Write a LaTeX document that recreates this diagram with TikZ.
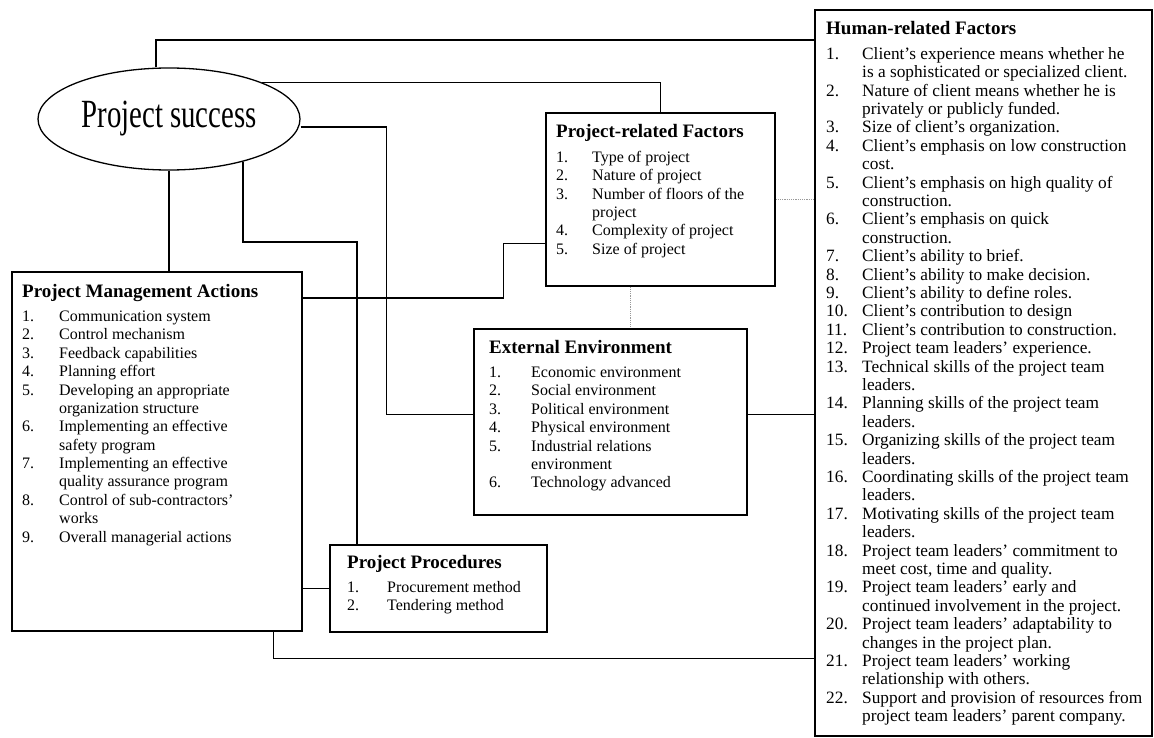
\documentclass[tikz,border=0pt]{standalone}
\usepackage{fontspec}
\setmainfont{Liberation Serif}
\usepackage{graphicx}
\usepackage{array}
\usetikzlibrary{shapes.geometric}

% heading row of a factor list
\newcommand{\boxtitle}[1]{\multicolumn{2}{@{}l@{}}{\fontsize{19}{19}\selectfont\bfseries #1}}

\begin{document}
\begin{tikzpicture}[x=1pt, y=-1pt,
  factorbox/.style={draw, line width=1.6pt, inner sep=0pt, anchor=north west},
  factorlist/.style={inner sep=0pt, anchor=base west, font=\fontsize{16}{18.4}\selectfont},
  link/.style={line width=1.2pt},
  weaklink/.style={line width=1.2pt, densely dotted, black!40}]
  \useasboundingbox (0,0) rectangle (1154,738);

  % The central goal
  \node[ellipse, draw, line width=1.3pt, minimum width=262pt, minimum height=102pt, inner sep=0pt] (success) at (169,119)
    {\scalebox{0.72}[1]{\fontsize{40}{40}\selectfont Project success}};

  % Frames of the factor groups
  \node[factorbox, minimum width=290pt, minimum height=359pt] (pma) at (11,271) {};
  \node[factorbox, minimum width=229pt, minimum height=173pt] (prf) at (545,112) {};
  \node[factorbox, minimum width=273pt, minimum height=186pt] (ext) at (473,328) {};
  \node[factorbox, minimum width=217pt, minimum height=87pt] (proc) at (329,544) {};
  \node[factorbox, minimum width=337pt, minimum height=726pt] (hum) at (814,9) {};

  % Project management actions
  \node[factorlist] (pmalist) at (22,297) {\begin{tabular}[t]{@{}p{37pt}@{}l@{}}
    \boxtitle{Project Management Actions}\\[6pt]
    1. & Communication system\\
    2. & Control mechanism\\
    3. & Feedback capabilities\\
    4. & Planning effort\\
    5. & Developing an appropriate\\
       & organization structure\\
    6. & Implementing an effective\\
       & safety program\\
    7. & Implementing an effective\\
       & quality assurance program\\
    8. & Control of sub-contractors’\\
       & works\\
    9. & Overall managerial actions
  \end{tabular}};

  % Project-related factors
  \node[factorlist] (prflist) at (556,138) {\begin{tabular}[t]{@{}p{36pt}@{}l@{}}
    \boxtitle{Project-related Factors}\\[6pt]
    1. & Type of project\\
    2. & Nature of project\\
    3. & Number of floors of the\\
       & project\\
    4. & Complexity of project\\
    5. & Size of project
  \end{tabular}};

  % External environment
  \node[factorlist] (extlist) at (489,353) {\begin{tabular}[t]{@{}p{42pt}@{}l@{}}
    \boxtitle{External Environment}\\[6pt]
    1. & Economic environment\\
    2. & Social environment\\
    3. & Political environment\\
    4. & Physical environment\\
    5. & Industrial relations\\
       & environment\\
    6. & Technology advanced
  \end{tabular}};

  % Project procedures
  \node[factorlist] (proclist) at (347,568) {\begin{tabular}[t]{@{}p{40pt}@{}l@{}}
    \boxtitle{Project Procedures}\\[6pt]
    1. & Procurement method\\
    2. & Tendering method
  \end{tabular}};

  % Human-related factors
  \node[factorlist, font=\fontsize{17.3}{18.4}\selectfont] (humlist) at (826,35) {\begin{tabular}[t]{@{}p{36pt}@{}l@{}}
    \boxtitle{Human-related Factors}\\[6pt]
    1.  & Client’s experience means whether he\\
        & is a sophisticated or specialized client.\\
    2.  & Nature of client means whether he is\\
        & privately or publicly funded.\\
    3.  & Size of client’s organization.\\
    4.  & Client’s emphasis on low construction\\
        & cost.\\
    5.  & Client’s emphasis on high quality of\\
        & construction.\\
    6.  & Client’s emphasis on quick\\
        & construction.\\
    7.  & Client’s ability to brief.\\
    8.  & Client’s ability to make decision.\\
    9.  & Client’s ability to define roles.\\
    10. & Client’s contribution to design\\
    11. & Client’s contribution to construction.\\
    12. & Project team leaders’ experience.\\
    13. & Technical skills of the project team\\
        & leaders.\\
    14. & Planning skills of the project team\\
        & leaders.\\
    15. & Organizing skills of the project team\\
        & leaders.\\
    16. & Coordinating skills of the project team\\
        & leaders.\\
    17. & Motivating skills of the project team\\
        & leaders.\\
    18. & Project team leaders’ commitment to\\
        & meet cost, time and quality.\\
    19. & Project team leaders’ early and\\
        & continued involvement in the project.\\
    20. & Project team leaders’ adaptability to\\
        & changes in the project plan.\\
    21. & Project team leaders’ working\\
        & relationship with others.\\
    22. & Support and provision of resources from\\
        & project team leaders’ parent company.
  \end{tabular}};

  % Links from project success to the groups
  \draw[link] ([xshift=-13pt]success.north) |- ([yshift=-31pt]hum.north west);
  \draw[link] (success.north east) -| (prf.north);
  \draw[link] ([yshift=-8pt]success.east) -- ++(86,0) |- ([yshift=7pt]ext.west);
  \draw[link] (success.south) -- (success.south |- pma.north);
  \coordinate (procbend) at (357,242);
  \draw[link] (success.-30) |- (procbend) -- (procbend |- proc.north);

  % Links between the groups
  \draw[link] ([yshift=-27pt]pma.north east) -- ++(201,0) |- ([yshift=-44pt]prf.west);
  \draw[link] (proc.west) -- (proc.west -| pma.east);
  \draw[link] ([xshift=-29pt]pma.south east) |- ([yshift=-286pt]hum.west);
  \draw[link] ([yshift=7pt]ext.east) -- ([yshift=7pt]ext.east -| hum.west);
  \draw[weaklink] (prf.east) -- (prf.east -| hum.west);
  \draw[weaklink] ([xshift=-29.5pt]prf.south) -- ([xshift=-29.5pt]prf.south |- ext.north);
\end{tikzpicture}
\end{document}
